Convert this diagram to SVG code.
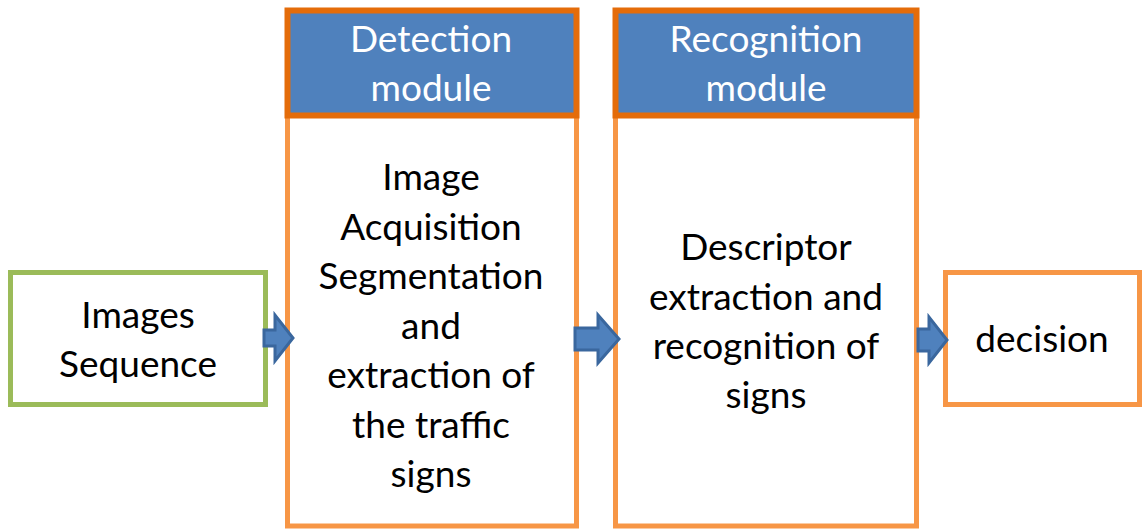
<svg xmlns="http://www.w3.org/2000/svg" width="1143" height="530" viewBox="0 0 1143 530">
  <style>
    .box { fill: #ffffff; stroke-width: 5; }
    .green { stroke: #9BBB59; }
    .orange { stroke: #F79646; }
    .head { fill: #4F81BD; stroke: #E46C0A; stroke-width: 6; }
    .txt { font-family: Lato, "Open Sans", sans-serif; font-size: 37px; fill: #000000; text-anchor: middle; }
    .htxt { font-family: Lato, "Open Sans", sans-serif; font-size: 37px; fill: #ffffff; text-anchor: middle; }
    .arrow { fill: #4F81BD; stroke: #3A679E; stroke-width: 3; stroke-linejoin: miter; }
  </style>
  <rect width="1143" height="530" fill="#ffffff"/>

  <g id="images-sequence">
    <rect class="box green" x="10.5" y="272.5" width="255" height="132"/>
    <text class="txt" x="138" y="328">Images</text>
    <text class="txt" x="138" y="377">Sequence</text>
  </g>

  <g id="detection-module">
    <rect class="box orange" x="287.5" y="112" width="289" height="414"/>
    <rect class="head" x="287.5" y="10.5" width="289" height="105"/>
    <text class="htxt" x="431" y="52">Detection</text>
    <text class="htxt" x="431" y="101">module</text>
    <text class="txt" x="431" y="190">Image</text>
    <text class="txt" x="431" y="240">Acquisition</text>
    <text class="txt" x="431" y="289">Segmentation</text>
    <text class="txt" x="431" y="339">and</text>
    <text class="txt" x="431" y="388">extraction of</text>
    <text class="txt" x="431" y="438">the traffic</text>
    <text class="txt" x="431" y="487">signs</text>
  </g>

  <g id="recognition-module">
    <rect class="box orange" x="615.5" y="112" width="301" height="414"/>
    <rect class="head" x="615.5" y="10.5" width="301" height="105"/>
    <text class="htxt" x="766" y="52">Recognition</text>
    <text class="htxt" x="766" y="101">module</text>
    <text class="txt" x="766" y="260">Descriptor</text>
    <text class="txt" x="766" y="310">extraction and</text>
    <text class="txt" x="766" y="359">recognition of</text>
    <text class="txt" x="766" y="408">signs</text>
  </g>

  <g id="decision">
    <rect class="box orange" x="945.5" y="272.5" width="194" height="132"/>
    <text class="txt" x="1042" y="352">decision</text>
  </g>

  <g id="connectors">
    <path class="arrow" d="M264 330 H275 V315 L293 338 L275 361 V346 H264 Z"/>
    <path class="arrow" d="M575 328 H598 V315 L619 339 L598 363 V350 H575 Z"/>
    <path class="arrow" d="M918 329 H929 V317 L947 340 L929 363 V351 H918 Z"/>
  </g>
</svg>
